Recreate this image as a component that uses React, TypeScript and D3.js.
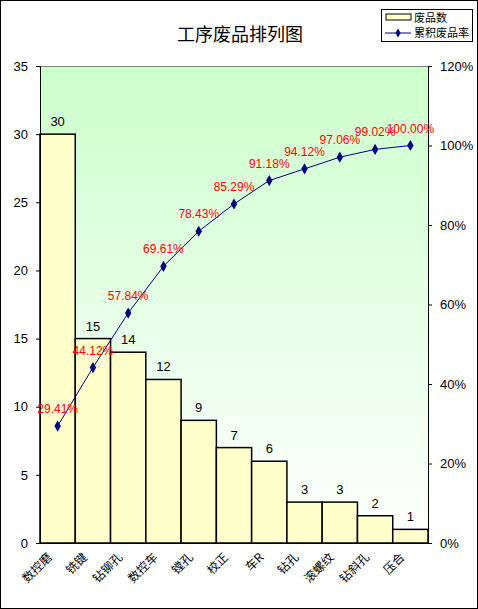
import { useEffect, useRef } from "react"
import * as d3 from "d3"

const categories = ["数控磨", "铣键", "钻铆孔", "数控车", "镗孔", "校正", "车R", "钻孔", "滚螺纹", "钻斜孔", "压合"]
const counts = [30, 15, 14, 12, 9, 7, 6, 3, 3, 2, 1]
const cumulative = [29.41, 44.12, 57.84, 69.61, 78.43, 85.29, 91.18, 94.12, 97.06, 99.02, 100.0]
const leftTicks = [0, 5, 10, 15, 20, 25, 30, 35]
const rightTicks = [0, 20, 40, 60, 80, 100, 120]

export default function App() {
  const svgRef = useRef(null)

  useEffect(() => {
    if (!svgRef.current) return
    const svg = d3.select(svgRef.current)
    svg.selectAll("*").remove()

    const width = 478
    const height = 609
    const margin = { top: 66, right: 50, bottom: 66, left: 40 }
    const innerWidth = width - margin.left - margin.right
    const innerHeight = height - margin.top - margin.bottom
    const font = "Arial, 'Liberation Sans', 'Noto Sans CJK SC', sans-serif"
    const cjk = "'Noto Sans CJK SC', sans-serif"

    // 外框
    svg.append("rect")
      .attr("x", 0.5).attr("y", 0.5)
      .attr("width", width - 1).attr("height", height - 1)
      .attr("fill", "#fff").attr("stroke", "#000")

    const defs = svg.append("defs")
    const grad = defs.append("linearGradient").attr("id", "bg").attr("x1", 0).attr("y1", 0).attr("x2", 0).attr("y2", 1)
    grad.append("stop").attr("offset", "0%").attr("stop-color", "#ccffcc")
    grad.append("stop").attr("offset", "100%").attr("stop-color", "#ffffff")

    const x = d3.scaleBand().domain(categories).range([0, innerWidth]).padding(0)
    const y = d3.scaleLinear().domain([0, 35]).range([innerHeight, 0])
    const y2 = d3.scaleLinear().domain([0, 120]).range([innerHeight, 0])

    const g = svg.append("g").attr("transform", `translate(${margin.left},${margin.top})`)

    g.append("rect").attr("width", innerWidth).attr("height", innerHeight).attr("fill", "url(#bg)")
    g.append("line").attr("x1", 0).attr("x2", innerWidth).attr("y1", 0.5).attr("y2", 0.5).attr("stroke", "#808080")

    // 柱状图
    g.selectAll(".bar")
      .data(counts)
      .enter()
      .append("rect")
      .attr("x", (d, i) => x(categories[i]))
      .attr("y", (d) => y(d))
      .attr("width", x.bandwidth())
      .attr("height", (d) => innerHeight - y(d))
      .attr("fill", "#ffffcc")
      .attr("stroke", "#000")
      .attr("stroke-width", 1.5)

    g.selectAll(".bar-label")
      .data(counts)
      .enter()
      .append("text")
      .attr("x", (d, i) => x(categories[i]) + x.bandwidth() / 2)
      .attr("y", (d) => y(d) - 8)
      .attr("text-anchor", "middle")
      .attr("font-family", font)
      .attr("font-size", "13px")
      .text((d) => d)

    // 坐标轴
    const leftAxis = g.append("g").call(d3.axisLeft(y).tickValues(leftTicks).tickSize(4).tickPadding(8))
    const rightAxis = g.append("g").attr("transform", `translate(${innerWidth},0)`)
      .call(d3.axisRight(y2).tickValues(rightTicks).tickSize(4).tickPadding(8).tickFormat((d) => d + "%"))
    const bottomAxis = g.append("g").attr("transform", `translate(0,${innerHeight})`)
      .call(d3.axisBottom(x).tickSize(0).tickPadding(0))

    for (const ax of [leftAxis, rightAxis]) {
      ax.select(".domain").attr("stroke", "#000")
      ax.selectAll("line").attr("stroke", "#000")
      ax.selectAll("text").attr("font-family", font).attr("font-size", "13px").attr("fill", "#000")
    }
    bottomAxis.select(".domain").attr("stroke", "#000")
    bottomAxis.selectAll("text")
      .attr("font-family", cjk)
      .attr("font-size", "12px")
      .attr("fill", "#000")
      .attr("text-anchor", "end")
      .attr("dy", 0)
      .attr("transform", "translate(-5,15) rotate(-45)")

    // 累积折线
    const line = d3.line()
      .x((d, i) => x(categories[i]) + x.bandwidth() / 2)
      .y((d) => y2(d))
    g.append("path")
      .datum(cumulative)
      .attr("d", line)
      .attr("fill", "none")
      .attr("stroke", "#000080")
      .attr("stroke-width", 1)

    g.selectAll(".marker")
      .data(cumulative)
      .enter()
      .append("path")
      .attr("d", d3.symbol().type(d3.symbolDiamond).size(36))
      .attr("transform", (d, i) => `translate(${x(categories[i]) + x.bandwidth() / 2},${y2(d)})`)
      .attr("fill", "#000080")

    g.selectAll(".pct-label")
      .data(cumulative)
      .enter()
      .append("text")
      .attr("x", (d, i) => x(categories[i]) + x.bandwidth() / 2)
      .attr("y", (d) => y2(d) - 13)
      .attr("text-anchor", "middle")
      .attr("font-family", font)
      .attr("font-size", "12px")
      .attr("fill", "#ff0000")
      .text((d) => d.toFixed(2) + "%")

    // 标题
    svg.append("text")
      .attr("x", 240)
      .attr("y", 41)
      .attr("text-anchor", "middle")
      .attr("font-family", cjk)
      .attr("font-size", "18px")
      .text("工序废品排列图")

    // 图例
    const legend = svg.append("g").attr("transform", "translate(381,9)")
    legend.append("rect").attr("x", 0.5).attr("y", 0.5).attr("width", 91).attr("height", 32)
      .attr("fill", "#fff").attr("stroke", "#000")
    legend.append("rect").attr("x", 5).attr("y", 5).attr("width", 25).attr("height", 6)
      .attr("fill", "#ffffcc").attr("stroke", "#000")
    legend.append("text").attr("x", 33).attr("y", 13).attr("font-family", cjk)
      .attr("font-size", "11px").text("废品数")
    legend.append("line").attr("x1", 4).attr("x2", 30).attr("y1", 24).attr("y2", 24).attr("stroke", "#000080")
    legend.append("path").attr("d", d3.symbol().type(d3.symbolDiamond).size(24))
      .attr("transform", "translate(17,24)").attr("fill", "#000080")
    legend.append("text").attr("x", 33).attr("y", 28).attr("font-family", cjk)
      .attr("font-size", "11px").text("累积废品率")

    svg.attr("width", width).attr("height", height).attr("viewBox", [0, 0, width, height])
  }, [])

  return (
    <div style={{ position: "absolute", left: 0, top: 0 }}>
      <svg ref={svgRef} style={{ display: "block" }}></svg>
    </div>
  )
}
